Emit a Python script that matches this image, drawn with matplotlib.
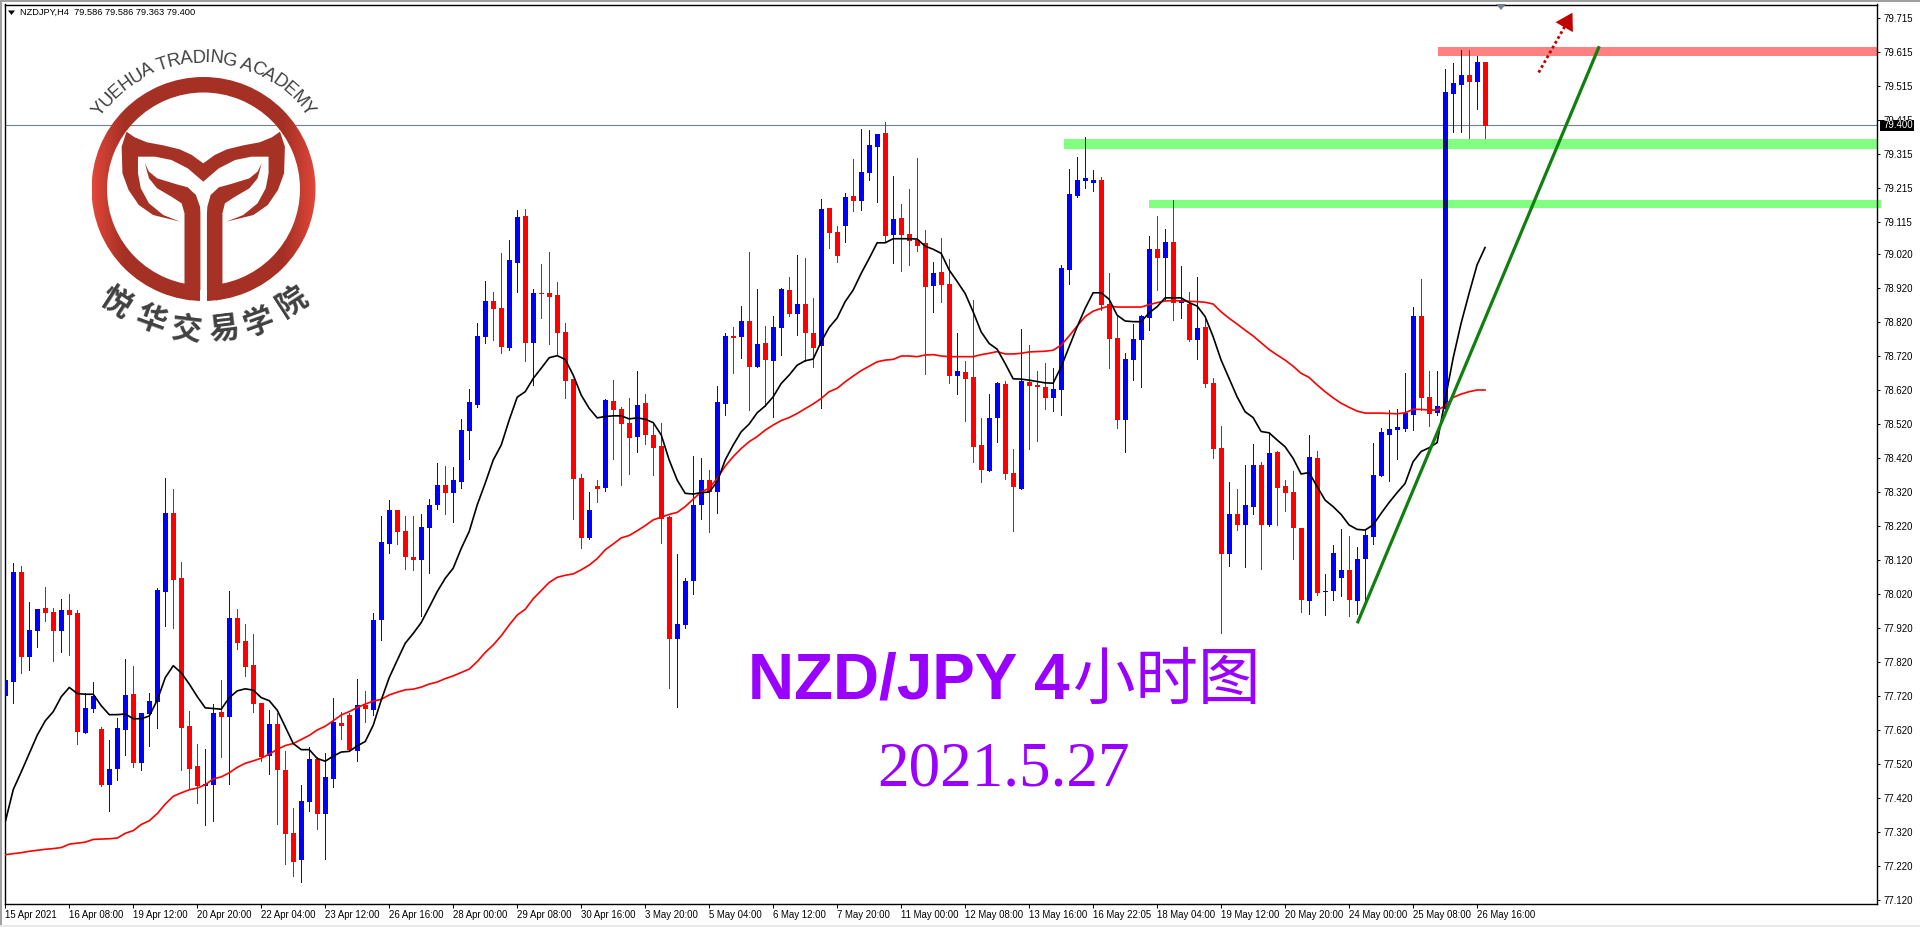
import numpy as np
import matplotlib
matplotlib.use('Agg')
import matplotlib.pyplot as plt
from matplotlib.colors import LinearSegmentedColormap
from matplotlib.patches import Polygon, Rectangle, Wedge

# bars 0..185, 4h candles, NZDJPY
opens = [77.722,77.763,78.085,77.838,77.913,77.979,77.968,77.912,77.974,77.965,
 77.612,77.685,77.624,77.459,77.506,77.621,77.726,77.524,77.668,77.703,
 78.029,78.259,78.068,77.632,77.515,77.457,77.459,77.674,77.659,77.950,
 77.882,77.812,77.700,77.544,77.638,77.503,77.318,77.238,77.409,77.535,
 77.374,77.479,77.641,77.665,77.559,77.694,77.682,77.944,78.168,78.268,
 78.206,78.130,78.121,78.215,78.283,78.342,78.318,78.351,78.501,78.577,
 78.777,78.883,78.862,78.745,78.995,79.133,78.759,78.906,78.904,78.898,
 78.792,78.651,78.362,78.186,78.339,78.333,78.589,78.565,78.524,78.483,
 78.583,78.489,78.454,78.245,77.889,77.930,78.059,78.283,78.356,78.321,
 78.580,78.780,78.777,78.824,78.691,78.759,78.706,78.803,78.915,78.847,
 78.874,78.789,78.750,79.156,79.086,79.103,79.191,79.177,79.259,79.336,
 79.377,79.077,79.127,79.080,79.062,79.053,78.927,78.968,78.933,78.662,
 78.674,78.659,78.459,78.383,78.539,78.639,78.377,78.330,78.645,78.636,
 78.630,78.597,78.621,78.974,79.194,79.236,79.230,79.239,78.874,78.774,
 78.533,78.709,78.768,78.833,79.036,79.009,79.056,78.877,78.874,78.768,
 78.806,78.641,78.450,78.139,78.256,78.224,78.277,78.400,78.224,78.439,
 78.339,78.321,78.215,78.000,78.421,78.027,78.030,78.068,78.091,78.000,
 78.124,78.189,78.368,78.491,78.503,78.506,78.547,78.839,78.600,78.553,
 78.567,79.493,79.520,79.548,79.528,79.586]
closes = [77.766,78.085,77.838,77.915,77.976,77.965,77.912,77.974,77.959,77.615,
 77.685,77.721,77.459,77.506,77.626,77.724,77.526,77.671,77.706,78.032,
 78.259,78.062,77.629,77.506,77.456,77.460,77.671,77.659,77.950,77.879,
 77.806,77.697,77.541,77.638,77.503,77.315,77.235,77.412,77.535,77.374,
 77.482,77.644,77.635,77.562,77.694,77.685,77.944,78.174,78.268,78.203,
 78.130,78.121,78.218,78.283,78.342,78.318,78.354,78.501,78.586,78.780,
 78.883,78.859,78.748,79.001,79.130,78.759,78.906,78.904,78.895,78.789,
 78.648,78.359,78.186,78.268,78.330,78.592,78.562,78.521,78.480,78.577,
 78.489,78.451,78.242,77.889,77.933,78.059,78.283,78.356,78.322,78.586,
 78.780,78.774,78.824,78.691,78.756,78.709,78.806,78.918,78.847,78.874,
 78.789,78.747,79.153,79.083,79.015,79.189,79.177,79.262,79.341,79.374,
 79.074,79.124,79.077,79.059,79.047,78.924,78.965,78.930,78.662,78.677,
 78.653,78.453,78.386,78.539,78.641,78.374,78.336,78.647,78.633,78.630,
 78.597,78.624,78.980,79.197,79.239,79.244,79.239,78.871,78.771,78.533,
 78.712,78.771,78.839,79.036,79.009,79.056,78.877,78.886,78.768,78.803,
 78.639,78.447,78.139,78.256,78.224,78.283,78.400,78.224,78.436,78.333,
 78.318,78.215,78.003,78.424,78.024,78.030,78.141,78.091,78.003,78.124,
 78.194,78.371,78.497,78.506,78.512,78.553,78.839,78.597,78.550,78.574,
 79.497,79.524,79.548,79.528,79.586,79.400]
highs = [77.920,78.113,78.103,77.998,77.976,78.041,77.979,78.006,78.021,77.974,
 77.731,77.762,77.629,77.591,77.656,77.829,77.809,77.671,77.729,78.038,
 78.362,78.329,78.115,77.676,77.579,77.565,77.697,77.768,78.029,77.976,
 77.932,77.903,77.700,77.679,77.670,77.559,77.391,77.459,77.571,77.542,
 77.553,77.715,77.674,77.670,77.771,77.735,77.964,78.250,78.297,78.268,
 78.251,78.251,78.256,78.301,78.406,78.398,78.395,78.536,78.624,78.818,
 78.942,78.909,79.024,79.062,79.151,79.154,78.918,78.992,79.027,78.939,
 78.818,78.651,78.374,78.321,78.356,78.595,78.651,78.571,78.598,78.677,
 78.609,78.521,78.524,78.249,78.139,78.068,78.427,78.421,78.386,78.633,
 78.789,78.806,78.868,79.027,78.918,78.809,78.839,78.921,78.953,79.018,
 79.009,78.891,79.183,79.156,79.103,79.200,79.300,79.389,79.386,79.374,
 79.409,79.250,79.168,79.212,79.303,79.091,78.997,79.068,79.006,78.789,
 78.706,78.886,78.539,78.609,78.644,78.647,78.447,78.800,78.753,78.677,
 78.700,78.686,78.989,79.271,79.306,79.365,79.268,79.247,78.965,78.841,
 78.729,78.815,78.841,79.074,79.133,79.094,79.180,78.986,78.909,78.953,
 78.837,78.656,78.515,78.350,78.330,78.400,78.462,78.409,78.497,78.441,
 78.356,78.383,78.215,78.489,78.441,78.080,78.165,78.212,78.191,78.159,
 78.209,78.465,78.509,78.562,78.565,78.671,78.865,78.947,78.677,78.677,
 79.564,79.582,79.622,79.620,79.603,79.586]
lows = [77.686,77.701,77.789,77.797,77.866,77.942,77.824,77.850,77.841,77.579,
 77.612,77.674,77.456,77.382,77.474,77.547,77.512,77.503,77.574,77.626,
 77.926,77.921,77.503,77.447,77.406,77.341,77.353,77.541,77.462,77.859,
 77.779,77.674,77.529,77.491,77.344,77.226,77.191,77.174,77.382,77.329,
 77.241,77.453,77.594,77.560,77.529,77.644,77.665,77.885,78.141,78.168,
 78.095,78.092,77.956,78.083,78.271,78.256,78.233,78.333,78.418,78.571,
 78.759,78.768,78.730,78.739,78.909,78.706,78.636,78.833,78.756,78.724,
 78.598,78.242,78.156,78.183,78.292,78.324,78.418,78.342,78.374,78.439,
 78.462,78.371,78.171,77.745,77.689,77.921,78.021,78.242,78.204,78.259,
 78.547,78.671,78.715,78.562,78.689,78.574,78.541,78.724,78.839,78.783,
 78.706,78.689,78.568,79.039,78.997,79.056,79.147,79.150,79.239,79.174,
 79.056,78.994,78.971,78.989,79.030,78.668,78.850,78.880,78.641,78.609,
 78.530,78.409,78.350,78.383,78.468,78.359,78.206,78.330,78.447,78.471,
 78.565,78.559,78.547,78.933,79.189,79.215,79.206,78.856,78.686,78.509,
 78.439,78.650,78.630,78.797,78.915,78.886,78.827,78.833,78.765,78.712,
 78.630,78.421,77.906,78.103,78.209,78.100,78.256,78.094,78.221,78.224,
 78.265,78.124,77.968,77.962,78.018,77.959,78.003,78.015,77.956,77.962,
 77.989,78.168,78.368,78.353,78.418,78.500,78.503,78.562,78.515,78.547,
 78.550,79.381,79.381,79.363,79.449,79.363]

ma_fast = [77.351,77.446,77.498,77.552,77.606,77.648,77.675,77.719,77.746,77.728,
 77.726,77.726,77.692,77.666,77.666,77.668,77.654,77.654,77.662,77.709,
 77.775,77.810,77.789,77.756,77.719,77.686,77.684,77.682,77.716,77.736,
 77.742,77.738,77.716,77.707,77.679,77.630,77.581,77.563,77.563,77.537,
 77.529,77.544,77.556,77.558,77.574,77.587,77.635,77.709,77.775,77.826,
 77.876,77.905,77.937,77.982,78.028,78.067,78.097,78.155,78.205,78.283,
 78.347,78.415,78.459,78.533,78.600,78.616,78.655,78.685,78.716,78.722,
 78.711,78.665,78.606,78.567,78.539,78.543,78.545,78.545,78.536,78.539,
 78.535,78.525,78.489,78.415,78.356,78.317,78.315,78.319,78.321,78.351,
 78.415,78.459,78.498,78.521,78.554,78.574,78.601,78.640,78.665,78.694,
 78.707,78.712,78.763,78.805,78.833,78.881,78.915,78.964,79.008,79.054,
 79.054,79.066,79.066,79.066,79.065,79.044,79.035,79.023,78.974,78.940,
 78.905,78.851,78.792,78.758,78.741,78.699,78.654,78.653,78.650,78.646,
 78.642,78.641,78.689,78.748,78.807,78.861,78.907,78.907,78.888,78.841,
 78.824,78.822,78.822,78.848,78.866,78.892,78.892,78.892,78.878,78.868,
 78.837,78.778,78.709,78.655,78.601,78.557,78.540,78.499,78.495,78.474,
 78.454,78.420,78.374,78.378,78.337,78.297,78.278,78.255,78.224,78.211,
 78.209,78.224,78.258,78.290,78.319,78.346,78.410,78.440,78.451,78.466,
 78.591,78.714,78.817,78.905,78.989,79.040]
ma_slow = [77.254,77.257,77.260,77.264,77.267,77.270,77.272,77.275,77.285,77.288,
 77.291,77.299,77.300,77.301,77.303,77.317,77.325,77.343,77.354,77.375,
 77.403,77.426,77.436,77.445,77.450,77.460,77.477,77.483,77.495,77.511,
 77.523,77.530,77.538,77.550,77.564,77.575,77.581,77.593,77.605,77.621,
 77.632,77.648,77.665,77.675,77.687,77.697,77.706,77.711,77.724,77.732,
 77.739,77.741,77.747,77.756,77.762,77.772,77.780,77.790,77.800,77.822,
 77.849,77.871,77.898,77.930,77.959,77.976,78.007,78.031,78.055,78.070,
 78.076,78.080,78.092,78.106,78.125,78.151,78.168,78.186,78.193,78.207,
 78.222,78.239,78.247,78.255,78.261,78.278,78.300,78.321,78.332,78.361,
 78.397,78.425,78.449,78.469,78.484,78.503,78.518,78.531,78.540,78.552,
 78.566,78.580,78.596,78.616,78.626,78.645,78.662,78.678,78.691,78.704,
 78.709,78.711,78.721,78.721,78.719,78.724,78.725,78.721,78.719,78.719,
 78.719,78.719,78.725,78.729,78.734,78.727,78.727,78.729,78.733,78.734,
 78.735,78.738,78.753,78.780,78.809,78.837,78.853,78.861,78.868,78.865,
 78.865,78.865,78.865,78.872,78.878,78.883,78.884,78.883,78.882,78.881,
 78.879,78.874,78.851,78.832,78.815,78.797,78.780,78.760,78.740,78.724,
 78.709,78.691,78.670,78.658,78.636,78.616,78.598,78.582,78.570,78.559,
 78.553,78.553,78.553,78.552,78.551,78.554,78.564,78.564,78.562,78.562,
 78.574,78.599,78.609,78.616,78.621,78.621]

time_labels = ['15 Apr 2021','16 Apr 08:00','19 Apr 12:00','20 Apr 20:00','22 Apr 04:00','23 Apr 12:00',
 '26 Apr 16:00','28 Apr 00:00','29 Apr 08:00','30 Apr 16:00','3 May 20:00','5 May 04:00','6 May 12:00',
 '7 May 20:00','11 May 00:00','12 May 08:00','13 May 16:00','16 May 22:05','18 May 04:00','19 May 12:00',
 '20 May 20:00','24 May 00:00','25 May 08:00','26 May 16:00']
price_ticks = [79.715,79.615,79.515,79.415,79.315,79.215,79.115,79.020,78.920,78.820,78.720,78.620,78.520,
 78.420,78.320,78.220,78.120,78.020,77.920,77.820,77.720,77.620,77.520,77.420,77.320,77.220,77.120]

BLUE = '#0000ff'
RED = '#ff0000'
PURPLE = '#9900ff'
W, H = 1920, 927

fig = plt.figure(figsize=(W/100, H/100), dpi=100, facecolor='white')
L, R, T, B = 4.5, 1877, 4.5, 904
ax = fig.add_axes([L/W, 1-B/H, (R-L)/W, (B-T)/H])

x = np.arange(len(opens))
op, cl, hi, lo = map(np.array, (opens, closes, highs, lows))
up = cl >= op
cols = np.where(up, BLUE, RED)

# bands go under the candles
ax.barh((79.330+79.359)/2, 234-132.3, left=132.3, height=0.029, color='#80ff80', lw=0, zorder=1)
ax.barh((79.156+79.180)/2, 234.5-143, left=143, height=0.024, color='#80ff80', lw=0, zorder=1, clip_on=False)
ax.barh((79.603+79.630)/2, 234-179.1, left=179.1, height=0.027, color='#ff8080', lw=0, zorder=1)

ax.axhline(79.400, color='#708090', lw=0.8, zorder=1.5)

ax.vlines(x, lo, hi, colors=cols, lw=0.72, zorder=2, antialiased=False)
ax.bar(x, np.abs(cl-op)+0.002, bottom=np.minimum(op, cl)-0.001, width=0.62, color=cols, lw=0, zorder=3, antialiased=False)
# darker where the big candle crosses the bands
ax.bar([180, 180], [0.029, 0.024], bottom=[79.330, 79.156], width=0.62, color='#10107c', lw=0, zorder=3.1, antialiased=False)

ax.plot(x, ma_slow, color=RED, lw=1.2, zorder=4)
ax.plot(x, ma_fast, color='black', lw=1.2, zorder=5)

# trend line and target arrow
ax.plot([169.1, 199.2], [77.939, 79.628], color='#0f800f', lw=2.3, zorder=6)
ax.plot([191.7, 195.2], [79.555, 79.700], color='#c00000', lw=2, ls=(0, (1, 1)), zorder=6)
ax.annotate('', xy=(196.1, 79.738), xytext=(194.4, 79.668),
            arrowprops=dict(arrowstyle='-|>,head_length=0.75,head_width=0.45', color='#c00000', lw=0, mutation_scale=16), zorder=6)

ax.set_xlim(-0.1, 234)
ax.set_ylim(77.109, 79.755)

ax.set_xticks(x[::8])
ax.set_xticklabels(time_labels, ha='left', fontsize=6.9, family='Liberation Sans')
ax.yaxis.tick_right()
ax.set_yticks(price_ticks)
ax.set_yticklabels(['%.3f' % p for p in price_ticks], fontsize=6.9, family='Liberation Sans')
ax.tick_params(axis='x', length=3, width=0.7, pad=1.5)
ax.tick_params(axis='y', length=2, width=0.7, pad=2.5)
for sp in ax.spines.values():
    sp.set_linewidth(1.0)

# overlay in image pixels: header, titles, logo
ov = fig.add_axes([0, 0, 1, 1], facecolor='none', zorder=10)
ov.set_axis_off()

ov.add_patch(Rectangle((0, 0), W, 1.5, color='#a0a0a0', lw=0))
ov.add_patch(Rectangle((0, 0), 1.5, H, color='#a0a0a0', lw=0))
ov.add_patch(Rectangle((0, 925), W, 2, color='#e8e8e8', lw=0))

ov.add_patch(Polygon([(8, 10.5), (15, 10.5), (11.5, 15)], color='black', lw=0))
ov.text(20, 12.7, 'NZDJPY,H4  79.586 79.586 79.363 79.400', fontsize=6.7, family='Liberation Sans', va='center')
ov.add_patch(Polygon([(1496, 4), (1506, 4), (1501, 10)], color='#708090', lw=0))

ov.add_patch(Rectangle((1880, 120), 34, 10.5, color='black', lw=0))
ov.text(1883, 125.4, '79.400', color='white', fontsize=6.9, family='Liberation Sans', va='center')

ov.text(748, 699, 'NZD/JPY 4', color=PURPLE, fontsize=46, fontweight='bold', family='Liberation Sans', va='baseline')
ov.text(1073, 699, '小时图', color=PURPLE, fontsize=45, family='Noto Sans CJK SC', va='baseline')
ov.text(877, 785, '2021.5.27', color=PURPLE, fontsize=45.5, family='Liberation Serif', va='baseline')

# logo: ring with a side to side shade
cx, cy = 203.5, 189
ring = Wedge((cx, cy), 112, 0, 360, width=15.5, fc='none', lw=0)
ov.add_patch(ring)
shade = LinearSegmentedColormap.from_list('shade', ['#a53024', '#a53024', '#e2483a'])
im = ov.imshow(np.abs(np.linspace(-1, 1, 256))[None, :]**2, extent=(cx-112, cx+112, cy+112, cy-112),
               cmap=shade, aspect='auto', zorder=2)
im.set_clip_path(ring)
ov.add_patch(Rectangle((200.3, 278), 6.7, 26, color='white', lw=0, zorder=3))

zx, zy = 1/2.45, 1/3
cup = [(310,395),(330,412),(360,427),(400,436),(440,448),(470,465),(498,490),(526,465),(556,448),(596,436),
       (636,427),(666,412),(686,395),(698,440),(696,520),(681,570),(656,615),(621,645),(555,665),(596,645),
       (631,610),(651,565),(658,520),(658,470),(616,470),(576,480),(536,505),(498,545),(460,505),(420,480),
       (380,470),(338,470),(338,520),(345,565),(365,610),(400,645),(441,665),(375,645),(340,615),(315,570),
       (300,520),(298,440)]
stem_l = [(355,490),(365,515),(385,535),(430,552),(460,562),(480,585),(490,620),(491,640),(491,870),(480,890),
          (465,902),(452,880),(452,640),(445,610),(420,590),(385,565),(365,535)]
stem_r = [(641,490),(631,515),(611,535),(566,552),(536,562),(516,585),(508,620),(507,640),(507,870),(518,890),
          (531,902),(545,880),(545,640),(551,610),(576,590),(611,565),(631,535)]
for shape in (cup, stem_l, stem_r):
    ov.add_patch(Polygon([(px*zx, py*zy) for px, py in shape], fc='#a63226', lw=0, zorder=4))

# letters along the arc, spaced by their own widths
adv = {'Y':.667,'U':.722,'E':.667,'H':.722,'A':.667,' ':.278,'T':.611,'R':.722,'D':.722,'I':.278,'N':.722,'G':.778,'C':.722,'M':.833}
arc_en = 'YUEHUA TRADING ACADEMY'
widths = np.array([adv[c] for c in arc_en])
mids = np.cumsum(widths) - widths/2
mids = mids - widths.sum()/2
for ch, m in zip(arc_en, mids):
    ang = np.radians(m*110/widths.sum())
    ov.text(cx + 131*np.sin(ang), cy - 131*np.cos(ang), ch, rotation=-np.degrees(ang), rotation_mode='anchor',
            ha='center', va='center', fontsize=13.2, color='#404040', family='Liberation Sans', zorder=5)

arc_cn = [('悦',116,302,-33),('华',151,320,-20),('交',186,330,-7),('易',224,330,7),('学',259,322,20),('院',292,302,33)]
for ch, px, py, rot in arc_cn:
    ov.text(px, py, ch, rotation=rot, rotation_mode='anchor', ha='center', va='center', fontsize=22,
            fontweight='bold', color='#404040', family='Noto Sans CJK SC', zorder=5)

ov.set_xlim(0, W)
ov.set_ylim(H, 0)

fig.savefig('out.png', dpi=100)
